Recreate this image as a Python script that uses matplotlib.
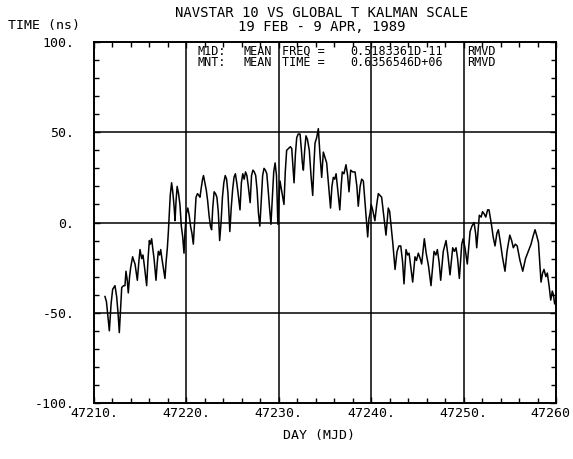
import matplotlib.pyplot as plt
from matplotlib.ticker import MultipleLocator
from matplotlib.transforms import ScaledTranslation

# day offsets from MJD 47210 and time offsets (ns)
day_offset = [
    1.19, 1.35, 1.5, 1.66, 1.85, 2.02, 2.27, 2.45, 2.6, 2.74, 2.87, 3.0, 3.2, 3.35, 3.46, 3.6,
    3.71, 3.85, 3.97, 4.18, 4.3, 4.44, 4.55, 4.69, 4.85, 4.98, 5.16, 5.3, 5.45, 5.58, 5.7,
    5.85, 5.99, 6.1, 6.24, 6.35, 6.5, 6.6, 6.71, 6.85, 6.96, 7.1, 7.22, 7.35, 7.5, 7.68,
    7.8, 7.94, 8.05, 8.15, 8.25, 8.4, 8.5, 8.58, 8.68, 8.77, 8.88, 9.0, 9.15, 9.3, 9.45,
    9.6, 9.74, 9.85, 10.0, 10.15, 10.3, 10.45, 10.6, 10.75, 10.9, 11.04, 11.2, 11.35, 11.47,
    11.6, 11.75, 11.85, 12.0, 12.15, 12.3, 12.45, 12.6, 12.73, 12.85, 13.0, 13.15, 13.3,
    13.45, 13.6, 13.75, 13.9, 14.05, 14.2, 14.35, 14.5, 14.7, 14.85, 15.0, 15.15, 15.3,
    15.45, 15.6, 15.8, 15.95, 16.1, 16.25, 16.4, 16.55, 16.7, 16.9, 17.05, 17.2, 17.35,
    17.5, 17.65, 17.8, 17.95, 18.1, 18.25, 18.4, 18.55, 18.7, 18.85, 19.0, 19.15, 19.3,
    19.45, 19.6, 19.75, 19.9, 20.0, 20.13, 20.56, 20.7, 20.85, 21.05, 21.25, 21.4, 21.55,
    21.65, 21.8, 21.94, 22.1, 22.3, 22.45, 22.55, 22.66, 22.8, 22.94, 23.1, 23.3, 23.5,
    23.67, 23.8, 23.92, 24.1, 24.28, 24.45, 24.64, 24.82, 25.0, 25.18, 25.4, 25.6, 25.75,
    25.9, 26.05, 26.2, 26.4, 26.6, 26.75, 26.87, 27.05, 27.27, 27.45, 27.6, 27.78, 28.0,
    28.25, 28.45, 28.6, 28.8, 28.97, 29.15, 29.35, 29.5, 29.62, 29.75, 29.87, 30.0, 30.16,
    30.4, 30.6, 30.77, 30.95, 31.13, 31.35, 31.6, 31.85, 32.0, 32.1, 32.35, 32.58, 32.8,
    33.0, 33.2, 33.4, 33.55, 33.77, 33.95, 34.1, 34.3, 34.49, 34.74, 34.9, 35.1, 35.3,
    35.46, 35.75, 35.95, 36.2, 36.47, 36.8, 37.0, 37.16, 37.35, 37.52, 37.8, 38.1, 38.3,
    38.53, 38.82, 39.0, 39.18, 39.35, 39.54, 39.8, 39.95, 40.15, 40.4, 40.7, 40.9, 41.13,
    41.3, 41.42, 41.7, 41.9, 42.05, 42.2, 42.4, 42.6, 42.75, 43.04, 43.2, 43.4, 43.6,
    43.76, 43.95, 44.2, 44.48, 44.7, 45.0, 45.2, 45.38, 45.6, 45.8, 46.1, 46.4, 46.7,
    47.0, 47.3, 47.5, 47.73, 47.9, 48.1, 48.38, 48.55, 48.7, 48.9, 49.06, 49.25, 49.43,
    49.6, 49.72, 49.85,
]
time_ns = [
    -41, -44, -52, -60, -45, -37, -35, -41, -50, -61, -48, -36, -35, -35, -27, -32,
    -39, -30, -25, -19, -21, -23, -27, -32, -22, -15, -20, -18, -24, -30, -35,
    -20, -10, -12, -9, -14, -20, -26, -32, -22, -16, -18, -15, -20, -25, -31,
    -22, -14, -5, 5, 15, 22, 18, 14, 8, 1, 12, 20, 16, 10, -2,
    -8, -17, -5, 5, 8, 4, -2, -6, -12, 2, 14, 16, 15, 14,
    19, 24, 26, 22, 18, 12, 4, -2, -4, 8, 17, 16, 14,
    6, -10, 0, 14, 22, 26, 24, 16, -5, 8, 18, 25, 27,
    22, 16, 7, 22, 27, 24, 28, 26, 20, 11, 26, 29, 28,
    26, 18, 5, -2, 12, 26, 30, 29, 27, 18, 8, -1, 14,
    28, 33, 26, -1, 12, 23, 10, 28, 40, 41, 42, 41, 30,
    22, 38, 47, 49, 49, 40, 33, 29, 40, 48, 46, 40, 25,
    15, 32, 44, 47, 52, 38, 25, 39, 36, 33, 20, 8, 20,
    25, 24, 27, 17, 7, 20, 28, 27, 32, 26, 17, 29, 28,
    28, 20, 9, 20, 24, 23, 10, 0, -8, 2, 5, 10, 7,
    1, 10, 16, 15, 14, 4, -7, 8, 6, 1, -12, -26, -16,
    -13, -13, -22, -34, -15, -18, -17, -25, -33, -19, -21, -17, -20,
    -23, -9, -17, -24, -35, -16, -18, -15, -22, -32, -16, -10, -18,
    -29, -14, -16, -14, -20, -31, -12, -9, -14, -23, -5, -2, 0,
    -6, -14, 4, 3, 6, 5, 3, 7, 7, -2, -8, -13, -6,
    -4, -10, -19, -27, -16, -7, -10, -14, -12, -13, -21, -27, -20,
    -16, -12, -8, -4, -7, -11, -33, -28, -26, -30, -28, -35, -43,
    -38, -40, -45,
]
mjd_start = 47210
x_ticks = [47210, 47220, 47230, 47240, 47250, 47260]
y_ticks = [-100, -50, 0, 50, 100]

days = [mjd_start + d for d in day_offset]

W, H = 573, 459
fig = plt.figure(figsize=(W / 100, H / 100), dpi=100)
ax = fig.add_axes([94 / W, 1 - 403 / H, (556 - 94) / W, (403 - 42) / H])

mono = 'DejaVu Sans Mono'

ax.plot(days, time_ns, color='black', lw=1.1)

ax.set_xlim(47210, 47260)
ax.set_ylim(-100, 100)
ax.set_xticks(x_ticks)
xlabels = [f'{t}.' for t in x_ticks[:-1]] + [str(x_ticks[-1])]
ax.set_xticklabels(xlabels, family=mono, fontsize=9.5)
ax.set_yticks(y_ticks)
ax.set_yticklabels([f'{t}.' for t in y_ticks], family=mono, fontsize=9.5)
ax.xaxis.set_minor_locator(MultipleLocator(2))
ax.yaxis.set_minor_locator(MultipleLocator(10))
ax.tick_params(which='both', direction='in', top=True, right=True, width=1.0, color='black')
ax.tick_params(which='major', length=4)
ax.tick_params(which='minor', length=3.5)
ax.tick_params(axis='y', pad=14)
ax.tick_params(axis='x', pad=3)
for s in ax.spines.values():
    s.set_linewidth(1.4)

# keep the last x label inside the figure
last = ax.get_xticklabels()[-1]
last.set_ha('right')
last.set_transform(last.get_transform() + ScaledTranslation(0.14, 0, fig.dpi_scale_trans))

for v in [-50, 0, 50]:
    ax.axhline(v, color='black', lw=1.1, zorder=1)
for v in [47220, 47230, 47240, 47250]:
    ax.axvline(v, color='black', lw=1.1, zorder=1)

def ftext(x, y, s, **kw):
    fig.text(x / W, 1 - y / H, s, family=mono, va='center', **kw)

ftext(322, 13, 'NAVSTAR 10 VS GLOBAL T KALMAN SCALE', ha='center', fontsize=10)
ftext(322, 27, '19 FEB - 9 APR, 1989', ha='center', fontsize=10)
ftext(8, 25, 'TIME (ns)', ha='left', fontsize=9.5)
ftext(319, 436, 'DAY (MJD)', ha='center', fontsize=9.5)

# mean-removed annotation
for y, parts in [(51.5, ['M1D:', 'MEAN', 'FREQ =', '0.5183361D-11', 'RMVD']),
                 (63, ['MNT:', 'MEAN', 'TIME =', '0.6356546D+06', 'RMVD'])]:
    for x, s in zip([197, 243, 282, 350, 467], parts):
        ftext(x, y, s, ha='left', fontsize=8.5)

fig.savefig('out.png', dpi=100)
